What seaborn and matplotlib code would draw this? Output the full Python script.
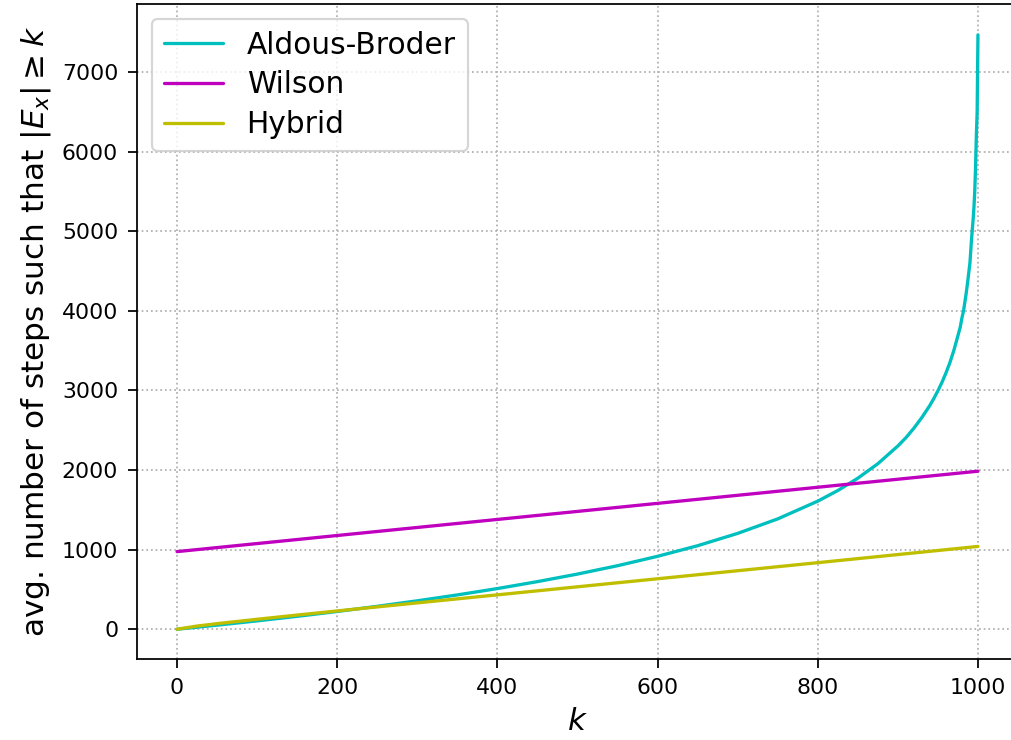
import numpy as np
import pandas as pd
import matplotlib
matplotlib.use("Agg")
import matplotlib.pyplot as plt
import seaborn as sns

# Values
ab_k = [0, 50, 100, 150, 200, 250, 300, 350, 400, 450, 500, 550, 600, 650, 700,
        750, 800, 825, 850, 875, 900, 910, 920, 930, 940, 945, 950, 955, 960,
        965, 970, 975, 978, 980, 982, 985, 987, 990, 992, 994, 995, 996, 997,
        998, 999, 1000]
ab_steps = [0, 51, 105, 162, 223, 288, 357, 431, 511, 598, 693, 798, 916, 1049,
            1204, 1386, 1609, 1742, 1897, 2079, 2302, 2405, 2525, 2660, 2812,
            2900, 2995, 3100, 3218, 3350, 3506, 3688, 3800, 3911, 4000, 4198,
            4350, 4603, 4900, 5150, 5300, 5500, 5800, 6200, 6500, 7466]

wilson_k = [0, 250, 500, 750, 1000]
wilson_steps = [975, 1228, 1480, 1733, 1985]

hybrid_k = [0, 25, 50, 100, 150, 200, 400, 600, 800, 1000]
hybrid_steps = [0, 40, 70, 125, 178, 230, 432, 634, 836, 1040]

series_names = ["Aldous-Broder", "Wilson", "Hybrid"]
series_colors = ["c", "m", "y"]

sns.set_style("white")
plt.rcParams["font.family"] = ["DejaVu Sans"]
plt.rcParams["mathtext.fontset"] = "dejavusans"
plt.rcParams["text.color"] = "black"
plt.rcParams["axes.labelcolor"] = "black"

fig = plt.figure(figsize=(1011 / 158, 740 / 158), dpi=158)
ax = fig.add_axes([137 / 1011, 81 / 740, 881 / 1011, 655 / 740])

data = [(ab_k, ab_steps), (wilson_k, wilson_steps), (hybrid_k, hybrid_steps)]
for (k, s), name, col in zip(data, series_names, series_colors):
    sns.lineplot(x=k, y=s, ax=ax, color=col, label=name, linewidth=1.5)

ax.set_xlim(-50, 1050)
ax.set_ylim(-374, 7854)
ax.set_xticks([0, 200, 400, 600, 800, 1000])
ax.set_yticks([0, 1000, 2000, 3000, 4000, 5000, 6000, 7000])
ax.grid(True, linestyle=":", color="#b0b0b0", linewidth=0.8)
ax.tick_params(axis="both", which="both", direction="out", length=4, width=0.8,
               pad=4.6, labelsize=10, bottom=True, left=True, colors="black")
for sp in ax.spines.values():
    sp.set_color("black")
    sp.set_linewidth(0.8)

ax.set_xlabel(r"$k$", fontsize=14)
ax.set_ylabel(r"avg. number of steps such that $|E_x| \geq k$", fontsize=14.2)
leg = ax.legend(loc="upper left", fontsize=13.5, labelspacing=0.36)
for t in leg.get_texts():
    t.set_color("black")

fig.savefig("out.png", dpi=158)
